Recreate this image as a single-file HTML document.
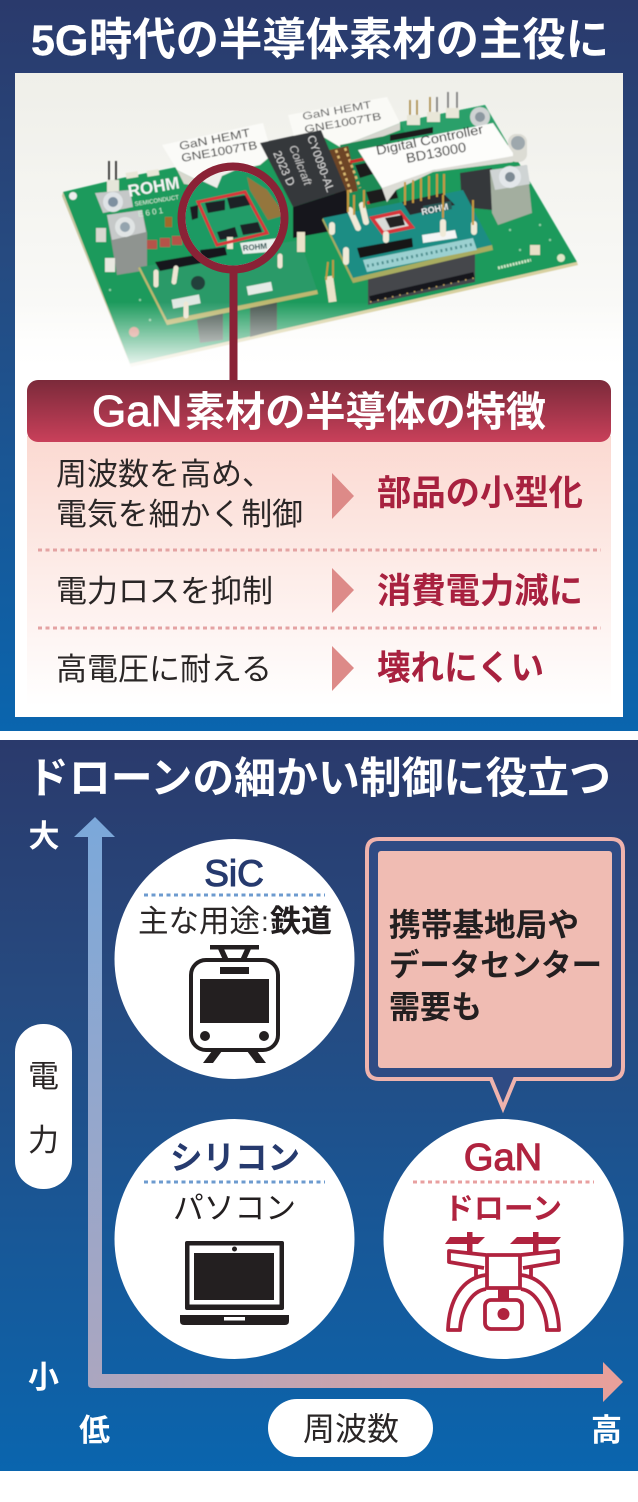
<!DOCTYPE html>
<html lang="ja"><head><meta charset="utf-8"><style>
html,body{margin:0;padding:0;background:#fff}
svg{display:block}
text{font-family:"Liberation Sans","Noto Sans CJK JP",sans-serif}
.b{font-weight:700}
</style></head><body>
<svg xmlns="http://www.w3.org/2000/svg" width="638" height="1502" viewBox="0 0 638 1502">
<defs>
<linearGradient id="pg" x1="0" y1="0" x2="0" y2="1"><stop offset="0" stop-color="#2a3a6c"/><stop offset=".35" stop-color="#264a80"/><stop offset="1" stop-color="#0a65ae"/></linearGradient>
<linearGradient id="ph" x1="0" y1="0" x2="0" y2="1"><stop offset="0" stop-color="#efefe9"/><stop offset=".8" stop-color="#fafaf8"/><stop offset="1" stop-color="#fff"/></linearGradient>
<linearGradient id="fade" x1="0" y1="0" x2="0" y2="1"><stop offset="0" stop-color="#fff" stop-opacity="0"/><stop offset=".8" stop-color="#fff"/><stop offset="1" stop-color="#fff"/></linearGradient>
<linearGradient id="hd" x1="0" y1="0" x2="0" y2="1"><stop offset="0" stop-color="#7b2a3a"/><stop offset="1" stop-color="#c9405a"/></linearGradient>
<linearGradient id="tb" x1="0" y1="0" x2="0" y2="1"><stop offset="0" stop-color="#fbd9d1"/><stop offset="1" stop-color="#fff"/></linearGradient>
<linearGradient id="va" x1="0" y1="0" x2="0" y2="1"><stop offset="0" stop-color="#7ba8da"/><stop offset="1" stop-color="#aaa6c0"/></linearGradient>
<linearGradient id="ha" x1="0" y1="0" x2="1" y2="0"><stop offset="0" stop-color="#aaa6c0"/><stop offset="1" stop-color="#e9a09a"/></linearGradient>
<filter id="s"><feGaussianBlur stdDeviation=".45"/></filter>
<clipPath id="cc"><circle cx="233" cy="218" r="50"/></clipPath>
</defs>

<!-- top panel -->
<rect x="0" y="0" width="638" height="731" fill="url(#pg)"/>
<rect x="15" y="73" width="608" height="644" fill="#fff"/>
<rect x="15" y="73" width="608" height="310" fill="url(#ph)"/>
<text class="b" x="31" y="55" font-size="43" fill="#fff" stroke="#fff" stroke-width=".4">5G</text>
<text class="b" x="89" y="55" font-size="45" fill="#fff" textLength="520" lengthAdjust="spacingAndGlyphs">時代の半導体素材の主役に</text>

<!-- photo -->
<g filter="url(#s)">
<polygon points="63,192 122,178 485,105 577,262 130,364" fill="#1f9a5c"/>
<polygon points="130,364 577,262 578,265 131,367" fill="#d8d0a0"/>
<polygon points="63,192 130,364 131,367 62,196" fill="#c9c6a0"/>
<circle cx="73" cy="196" r="4" fill="#eee"/>
<circle cx="561" cy="258" r="4" fill="#dfe8c8"/>
<circle cx="134" cy="332" r="5" fill="#d88f80"/>
<rect x="530" y="245" width="10" height="10" fill="#e8dfc8"/>
<g fill="#8fd0a8"><circle cx="110" cy="290" r="1.2"/><circle cx="140" cy="300" r="1.200"/><circle cx="510" cy="230" r="1.200"/><circle cx="540" cy="225" r="1.200"/><circle cx="520" cy="250" r="1.200"/><circle cx="150" cy="320" r="1.200"/><circle cx="550" cy="240" r="1.200"/></g>
<path d="M498 268L531 260" stroke="#cfe8c8" stroke-width="3" stroke-dasharray="2 1"/>
<!-- back pins -->
<polygon points="400,122 485,105 500,132 412,148" fill="#2aa06a"/>
<g stroke="#a98a4a" stroke-width="1.6"><path d="M410 100V120M417 100V118M430 97V117"/></g>
<g stroke="#777" stroke-width="1.6"><path d="M437 97V116M448 92V112M457 92V110"/></g>
<g fill="#e9e7d8"><rect x="407" y="115" width="13" height="10"/><rect x="427" y="112" width="13" height="10"/><rect x="446" y="108" width="13" height="10"/></g>
<g stroke="#333" stroke-width="1.8"><path d="M109 161V183M116 161V183"/></g>
<rect x="107" y="180" width="12" height="14" fill="#e6e6da"/>
<!-- labels -->
<polygon points="162,145 263,123 272,155 260,165 197,180 177,170" fill="#fbfbf8"/>
<polygon points="177,170 197,180 198,186 184,184" fill="#d8d8ce"/>
<polygon points="288,115 387,97 400,123 340,147 320,135 295,140" fill="#fafaf6"/>
<polygon points="340,147 400,123 400,130 343,152" fill="#d6d6cf"/>
<text transform="translate(180,150) rotate(-11)" font-size="11.500" fill="#333" textLength="72" lengthAdjust="spacingAndGlyphs">GaN HEMT</text>
<text transform="translate(182,162) rotate(-10)" font-size="11.500" fill="#222" textLength="77" lengthAdjust="spacingAndGlyphs">GNE1007TB</text>
<text transform="translate(303,120) rotate(-10)" font-size="10.500" fill="#555" textLength="70" lengthAdjust="spacingAndGlyphs">GaN HEMT</text>
<text transform="translate(305,133) rotate(-10)" font-size="10.500" fill="#444" textLength="78" lengthAdjust="spacingAndGlyphs">GNE1007TB</text>
<!-- green middle, red wires, coil -->
<polygon points="340,145 390,135 400,205 345,220" fill="#1b8a55"/>
<rect x="330" y="148" width="23" height="46" fill="#6d4426" transform="rotate(-12 341 170)"/>
<g stroke="#d9b870" stroke-width="2.500" stroke-dasharray="3 3"><path d="M336 150L352 195M345 148L360 188"/></g>
<path d="M350 162L378 156M367 203L388 198" stroke="#cf2a2a" stroke-width="3"/>
<polygon points="355,165 380,160 386,170 360,178" fill="#1a1c1e"/>
<polygon points="366,192 395,186 398,198 370,204" fill="#1a1c1e"/>
<!-- transformer -->
<polygon points="293,207 346,190 352,218 348,228 293,238" fill="#17181a"/>
<polygon points="260,143 321,130 346,190 293,207" fill="#36383a"/>
<text transform="translate(273,153) rotate(66)" font-size="11.500" fill="#ddd">2023 D</text>
<text transform="translate(289,147) rotate(68)" font-size="11.500" fill="#ccc" font-style="italic">Coilcraft</text>
<text transform="translate(307,137) rotate(70)" font-size="11.500" fill="#ddd">CY0090-AL</text>
<!-- white cap and capacitor -->
<rect x="508" y="134" width="19" height="28" rx="8" fill="#dcdcd4"/>
<circle cx="518" cy="143" r="7" fill="#9ea8ad"/>
<circle cx="480" cy="117" r="10" fill="#cfd3d3"/><circle cx="480" cy="117" r="5" fill="#8c98a0"/>
<polygon points="460,173 492,168 492,210 462,207" fill="#35383a"/>
<!-- digital controller -->
<polygon points="390,135 433,127 433,133 390,141" fill="#1c1c1f"/>
<polygon points="358,150 493,123 513,153 513,162 433,170 395,188 387,202 382,188" fill="#fdfdfb"/>
<polygon points="382,188 433,170 513,156 513,162 433,172 396,190 387,202" fill="#dcdcd5"/>
<text transform="translate(377,155) rotate(-11.500)" font-size="13" fill="#1c1c1c" textLength="109" lengthAdjust="spacingAndGlyphs">Digital Controller</text>
<text transform="translate(407,163) rotate(-11)" font-size="13.500" fill="#1c1c1c" textLength="61" lengthAdjust="spacingAndGlyphs">BD13000</text>
<!-- right screw block -->
<polygon points="490,170 527,165 532,213 498,225 492,213" fill="#a3ae9f"/>
<polygon points="490,170 527,165 530,184 495,190" fill="#cfd4d4"/>
<circle cx="510" cy="177" r="11" fill="#e3e7ea"/><circle cx="510" cy="177" r="5" fill="#7d8a94"/>
<!-- left screw blocks -->
<polygon points="95,193 130,190 133,207 103,213" fill="#c5c8c8"/>
<polygon points="107,215 142,210 147,233 147,270 117,275" fill="#8f9490"/>
<polygon points="107,215 142,210 146,232 112,240" fill="#c6c9c9"/>
<circle cx="113" cy="202" r="10" fill="#dfe3e6"/><circle cx="113" cy="202" r="5" fill="#7d8fa0"/>
<circle cx="125" cy="227" r="10" fill="#e0e4e4"/><circle cx="125" cy="227" r="5" fill="#94a4ae"/>
<rect x="96" y="228" width="10" height="14" fill="#d8d8d0"/>
<rect x="105" y="258" width="10" height="14" fill="#e8e8e0"/>
<text transform="translate(129,197) rotate(-10)" class="b" font-size="17" fill="#f5f5f5">ROHM</text>
<text transform="translate(135,206) rotate(-9)" font-size="6" fill="#e8f5e8">SEMICONDUCT</text>
<text transform="translate(137,208) rotate(-9) translate(0,9)" font-size="8" fill="#d0eed8">E 6 0 1</text>
<g fill="#e9e7d8"><rect x="126" y="172" width="12" height="6" transform="rotate(-9 132 175)"/><rect x="147" y="170" width="12" height="6" transform="rotate(-9 153 173)"/></g>
<rect x="165" y="217" width="7" height="10" fill="#a06a2a"/>
<g fill="#b5524a"><rect x="147" y="240" width="10" height="9"/><rect x="160" y="238" width="10" height="9"/><rect x="172" y="236" width="10" height="9"/></g>
<!-- lower blocks -->
<polygon points="197,320 223,313 223,340 200,343" fill="#46564f"/>
<polygon points="250,307 277,300 277,330 250,337" fill="#46564f"/>
<polygon points="160,262 225,250 228,256 165,270" fill="#1a1d1f"/>
<!-- left sub board -->
<polygon points="140,267 300,240 317,290 167,320" fill="#2c9a68"/>
<polygon points="140,267 167,320 317,290 318,294 167,325 138,268" fill="#bdb870"/>
<polygon points="155,262 225,250 228,258 160,271" fill="#15181a"/>
<circle cx="198" cy="283" r="7" fill="#24403a"/>
<rect x="172" y="297" width="28" height="9" fill="#dfe8e2" transform="rotate(-11 186 301)"/>
<rect x="247" y="284" width="25" height="9" fill="#e5ece6" transform="rotate(-11 260 288)"/>
<g stroke="#eee6d4" stroke-width="5" stroke-linecap="round"><path d="M156 272V285M176 268L174 282M186 304V316M280 256V266"/></g>
<!-- black connector right -->
<polygon points="368,277 475,253 475,282 368,305" fill="#45474b"/>
<path d="M370 299L474 275" stroke="#15161a" stroke-width="6"/>
<path d="M370 302L474 278" stroke="#c8a860" stroke-width="1.500" stroke-dasharray="1.500 6"/>
<!-- right sub board -->
<polygon points="323,218 463,190 492,245 353,278" fill="#1f8d84"/>
<polygon points="323,218 353,278 492,245 493,250 353,283 322,220" fill="#a8ac60"/>
<polygon points="402,202 443,193 455,205 410,215" fill="#2b2b2e"/>
<g stroke="#c69a40" stroke-width="2"><path d="M405 182V205M413 180V203M421 178V201M429 176V199M437 174V197M444 174V195"/></g>
<polygon points="357,248 412,238 413,247 360,258" fill="#141619"/>
<polygon points="363,260 473,238 477,250 367,272" fill="#9bd0d0"/>
<path d="M367 266L474 244" stroke="#4f8f8f" stroke-width="3" stroke-dasharray="2 3"/>
<polygon points="422,235 455,230 457,238 423,243" fill="#f5f5f5"/>
<polygon points="372,218 400,212 412,227 383,233" fill="#d9dcd8" stroke="#d8343a" stroke-width="3.500"/>
<polygon points="385,218 402,215 405,225 390,228" fill="#222"/>
<polygon points="423,206 451,201 452,209 424,215" fill="#2a5a58"/>
<text transform="translate(422,215) rotate(-12)" class="b" font-size="9" fill="#f0f0f0">ROHM</text>
<g stroke="#f0ead8" stroke-width="6" stroke-linecap="round"><path d="M350 210L358 228M362 205L366 222M443 222V234M474 224V232M332 225V232M346 250V262M386 234V240"/></g>
<g stroke="#c69a40" stroke-width="2"><path d="M348 190V212M354 195V215M364 190V208M443 195V218M473 200V225"/></g>
<rect x="327" y="276" width="8" height="26" fill="#eae2c8" transform="rotate(-8 331 290)"/>
<path d="M328 262L326 280M333 260V278" stroke="#c69a40" stroke-width="1.800"/>
<rect x="297" y="232" width="8" height="20" fill="#eae2c8"/>
<!-- zoom circle content -->
<g clip-path="url(#cc)">
<rect x="178" y="163" width="110" height="110" fill="#1f9a64"/>
<polygon points="200,180 217,188 222,176 240,168 190,168" fill="#eeeeea"/>
<polygon points="247,177 267,190 285,215 268,220 250,190" fill="#94763c"/>
<polygon points="198,202 245,192 267,233 217,245" fill="#229c68"/>
<polygon points="205,203 225,200 225,210 208,213" fill="#1e2226"/>
<polygon points="227,198 247,195 250,205 230,209" fill="#1e2226"/>
<polygon points="217,232 235,227 238,237 220,240" fill="#1e2226"/>
<polygon points="240,225 258,222 262,232 243,235" fill="#1e2226"/>
<polygon points="190,207 198,205 198,218 192,220" fill="#1c1f20"/>
<polygon points="200,250 225,247 227,255 202,260" fill="#14171a"/>
<polygon points="240,243 295,236 295,250 243,254" fill="#e8f0ec"/>
<text transform="translate(243,251) rotate(-6)" class="b" font-size="8" fill="#1f4a4a">ROHM</text>
<rect x="227" y="237" width="6" height="12" fill="#ece4cc"/>
<polygon points="198,202 245,192 267,233 217,245" fill="none" stroke="#d8343a" stroke-width="3"/>
</g>
</g>
<rect x="15" y="302" width="608" height="80" fill="url(#fade)" opacity=".92"/>
<circle cx="233" cy="218" r="49" fill="none" stroke="#fff" stroke-width="3"/>
<circle cx="233" cy="218" r="51.500" fill="none" stroke="#8a2236" stroke-width="8"/>
<rect x="229.500" y="270" width="8" height="111" fill="#8a2236"/>

<!-- table -->
<rect x="27" y="436" width="584" height="270" fill="url(#tb)"/>
<rect x="27" y="380" width="584" height="62" rx="11" fill="url(#hd)"/>
<text x="92" y="426" font-size="44" fill="#fff" stroke="#fff" stroke-width=".9">GaN</text>
<text class="b" x="185" y="426" font-size="41" fill="#fff" textLength="361" lengthAdjust="spacingAndGlyphs">素材の半導体の特徴</text>
<g font-size="31" fill="#2a2626">
<text x="56" y="485">周波数を高め、</text>
<text x="56" y="525" textLength="247" lengthAdjust="spacingAndGlyphs">電気を細かく制御</text>
<text x="56" y="602" textLength="217" lengthAdjust="spacingAndGlyphs">電力ロスを抑制</text>
<text x="56" y="680" textLength="216" lengthAdjust="spacingAndGlyphs">高電圧に耐える</text>
</g>
<g fill="#dd8a88">
<polygon points="332,473 354,496 332,519"/>
<polygon points="332,568 354,590 332,613"/>
<polygon points="332,646 354,668 332,691"/>
</g>
<g class="b" font-size="35" fill="#a8213f">
<text x="377" y="505" textLength="206" lengthAdjust="spacingAndGlyphs">部品の小型化</text>
<text x="377" y="603" textLength="206" lengthAdjust="spacingAndGlyphs">消費電力減に</text>
<text x="377" y="680" textLength="167" lengthAdjust="spacingAndGlyphs">壊れにくい</text>
</g>
<path d="M38 550H601M38 628H601" stroke="#e4a3a3" stroke-width="3" stroke-dasharray="4 3.500"/>

<!-- bottom panel -->
<rect x="0" y="740" width="638" height="731" fill="url(#pg)"/>
<text class="b" x="27" y="793" font-size="43" fill="#fff" textLength="584" lengthAdjust="spacingAndGlyphs">ドローンの細かい制御に役立つ</text>

<!-- axes -->
<polygon points="95,817 115,837 102,837 102,1374 88,1374 88,837 74,837" fill="url(#va)"/>
<path d="M88 1374H603V1362L623 1382L603 1402V1388H92Q88 1388 88 1384Z" fill="url(#ha)"/>
<g class="b" font-size="31" fill="#fff" text-anchor="middle">
<text x="44" y="847">大</text>
<text x="43.500" y="1388">小</text>
<text x="94.500" y="1441">低</text>
<text x="606.500" y="1441">高</text>
</g>

<!-- pills -->
<rect x="15" y="1024" width="57" height="165" rx="28" fill="#fff"/>
<g font-size="31" fill="#2a2626" text-anchor="middle">
<text x="43.500" y="1087">電</text>
<text x="43.500" y="1151">力</text>
</g>
<rect x="268" y="1399" width="165" height="58" rx="29" fill="#fff"/>
<text x="351" y="1440" font-size="32" fill="#2a2626" text-anchor="middle">周波数</text>

<!-- circles -->
<circle cx="234.500" cy="959" r="120" fill="#fff"/>
<circle cx="234.500" cy="1239" r="120" fill="#fff"/>
<circle cx="503.500" cy="1239" r="120" fill="#fff"/>

<!-- SiC -->
<text x="234" y="886" font-size="37" fill="#263a6e" stroke="#263a6e" stroke-width="1.100" text-anchor="middle">SiC</text>
<path d="M144 895H325" stroke="#6d9bcf" stroke-width="3" stroke-dasharray="4 3.500"/>
<text x="138" y="932" font-size="31" fill="#2a2626" textLength="122" lengthAdjust="spacingAndGlyphs">主な用途</text>
<text x="261" y="931" font-size="28" fill="#2a2626">:</text>
<text class="b" x="270" y="932" font-size="31" fill="#231f20" textLength="62" lengthAdjust="spacingAndGlyphs">鉄道</text>
<!-- train -->
<g fill="#231f20">
<rect x="210" y="945" width="49" height="4.500"/>
<polygon points="218,949 224,949 229,960 223,960"/>
<polygon points="251,949 245,949 240,960 246,960"/>
<rect x="191" y="960" width="87" height="90" rx="15" fill="#fff" stroke="#231f20" stroke-width="4"/>
<rect x="220" y="967" width="29" height="7"/>
<rect x="200" y="979" width="69" height="44"/>
<circle cx="205" cy="1036" r="5"/>
<circle cx="264" cy="1036" r="5"/>
<polygon points="212,1051 222,1051 213,1063 203,1063"/>
<polygon points="257,1051 247,1051 256,1063 266,1063"/>
</g>

<!-- Silicon -->
<text class="b" x="170" y="1169" font-size="33" fill="#263a6e" textLength="130" lengthAdjust="spacingAndGlyphs">シリコン</text>
<path d="M144 1182H325" stroke="#6d9bcf" stroke-width="3" stroke-dasharray="4 3.500"/>
<text x="173" y="1219" font-size="31" fill="#231f20" textLength="123" lengthAdjust="spacingAndGlyphs">パソコン</text>
<!-- laptop -->
<g fill="#231f20">
<rect x="185" y="1241" width="99" height="69" rx="2"/>
<rect x="189.500" y="1245.500" width="90" height="59" fill="#fff"/>
<rect x="194" y="1253" width="80" height="47"/>
<circle cx="234.500" cy="1249" r="2.500"/>
<path d="M180 1315H289V1321Q289 1325 285 1325H184Q180 1325 180 1321Z"/>
<rect x="224" y="1317" width="21" height="3.500" fill="#fff"/>
</g>

<!-- GaN -->
<text x="503" y="1170" font-size="38" fill="#b0233f" stroke="#b0233f" stroke-width="1.100" text-anchor="middle">GaN</text>
<path d="M413 1182H594" stroke="#e8a0a0" stroke-width="3" stroke-dasharray="4 3.500"/>
<text class="b" x="444" y="1219" font-size="30" fill="#b0233f" textLength="118" lengthAdjust="spacingAndGlyphs">ドローン</text>
<!-- drone -->
<g fill="#b0233f">
<polygon points="450,1237 485,1237 478,1244 445,1244"/>
<polygon points="517,1237 561,1237 555,1244 510,1244"/>
<rect x="467" y="1232" width="5.500" height="20"/>
<rect x="533" y="1232" width="5.500" height="20"/>
<rect x="498" y="1288" width="11" height="12"/>
</g>
<g fill="#fff" stroke="#b0233f" stroke-width="3.800" stroke-linejoin="round">
<path d="M486 1255L449 1251V1262L484 1268"/>
<path d="M521 1255L558 1251V1262L523 1268"/>
<path d="M476 1266V1278M531 1266V1278" fill="none"/>
<path d="M486 1275C462 1278 449 1300 448 1330H460C461 1308 472 1291 486 1289"/>
<path d="M521 1275C545 1278 558 1300 559 1330H547C546 1308 535 1291 521 1289"/>
<rect x="487" y="1255" width="33" height="33"/>
<rect x="485" y="1300" width="37" height="29" rx="6"/>
</g>
<circle cx="503.500" cy="1314" r="6" fill="#b0233f"/>

<!-- callout -->
<path d="M379 839H611Q623 839 623 851V1067Q623 1079 611 1079H515L503 1108L491 1079H379Q367 1079 367 1067V851Q367 839 379 839Z" fill="#2f4b84" stroke="#efb3ad" stroke-width="4"/>
<rect x="378" y="851" width="234" height="217" rx="3" fill="#f0bcb3"/>
<g class="b" fill="#231f20">
<text x="389" y="936" font-size="32" textLength="190" lengthAdjust="spacingAndGlyphs">携帯基地局や</text>
<text x="389" y="976" font-size="31" textLength="213" lengthAdjust="spacingAndGlyphs">データセンター</text>
<text x="389" y="1018" font-size="32" textLength="93" lengthAdjust="spacingAndGlyphs">需要も</text>
</g>
</svg>
</body></html>
